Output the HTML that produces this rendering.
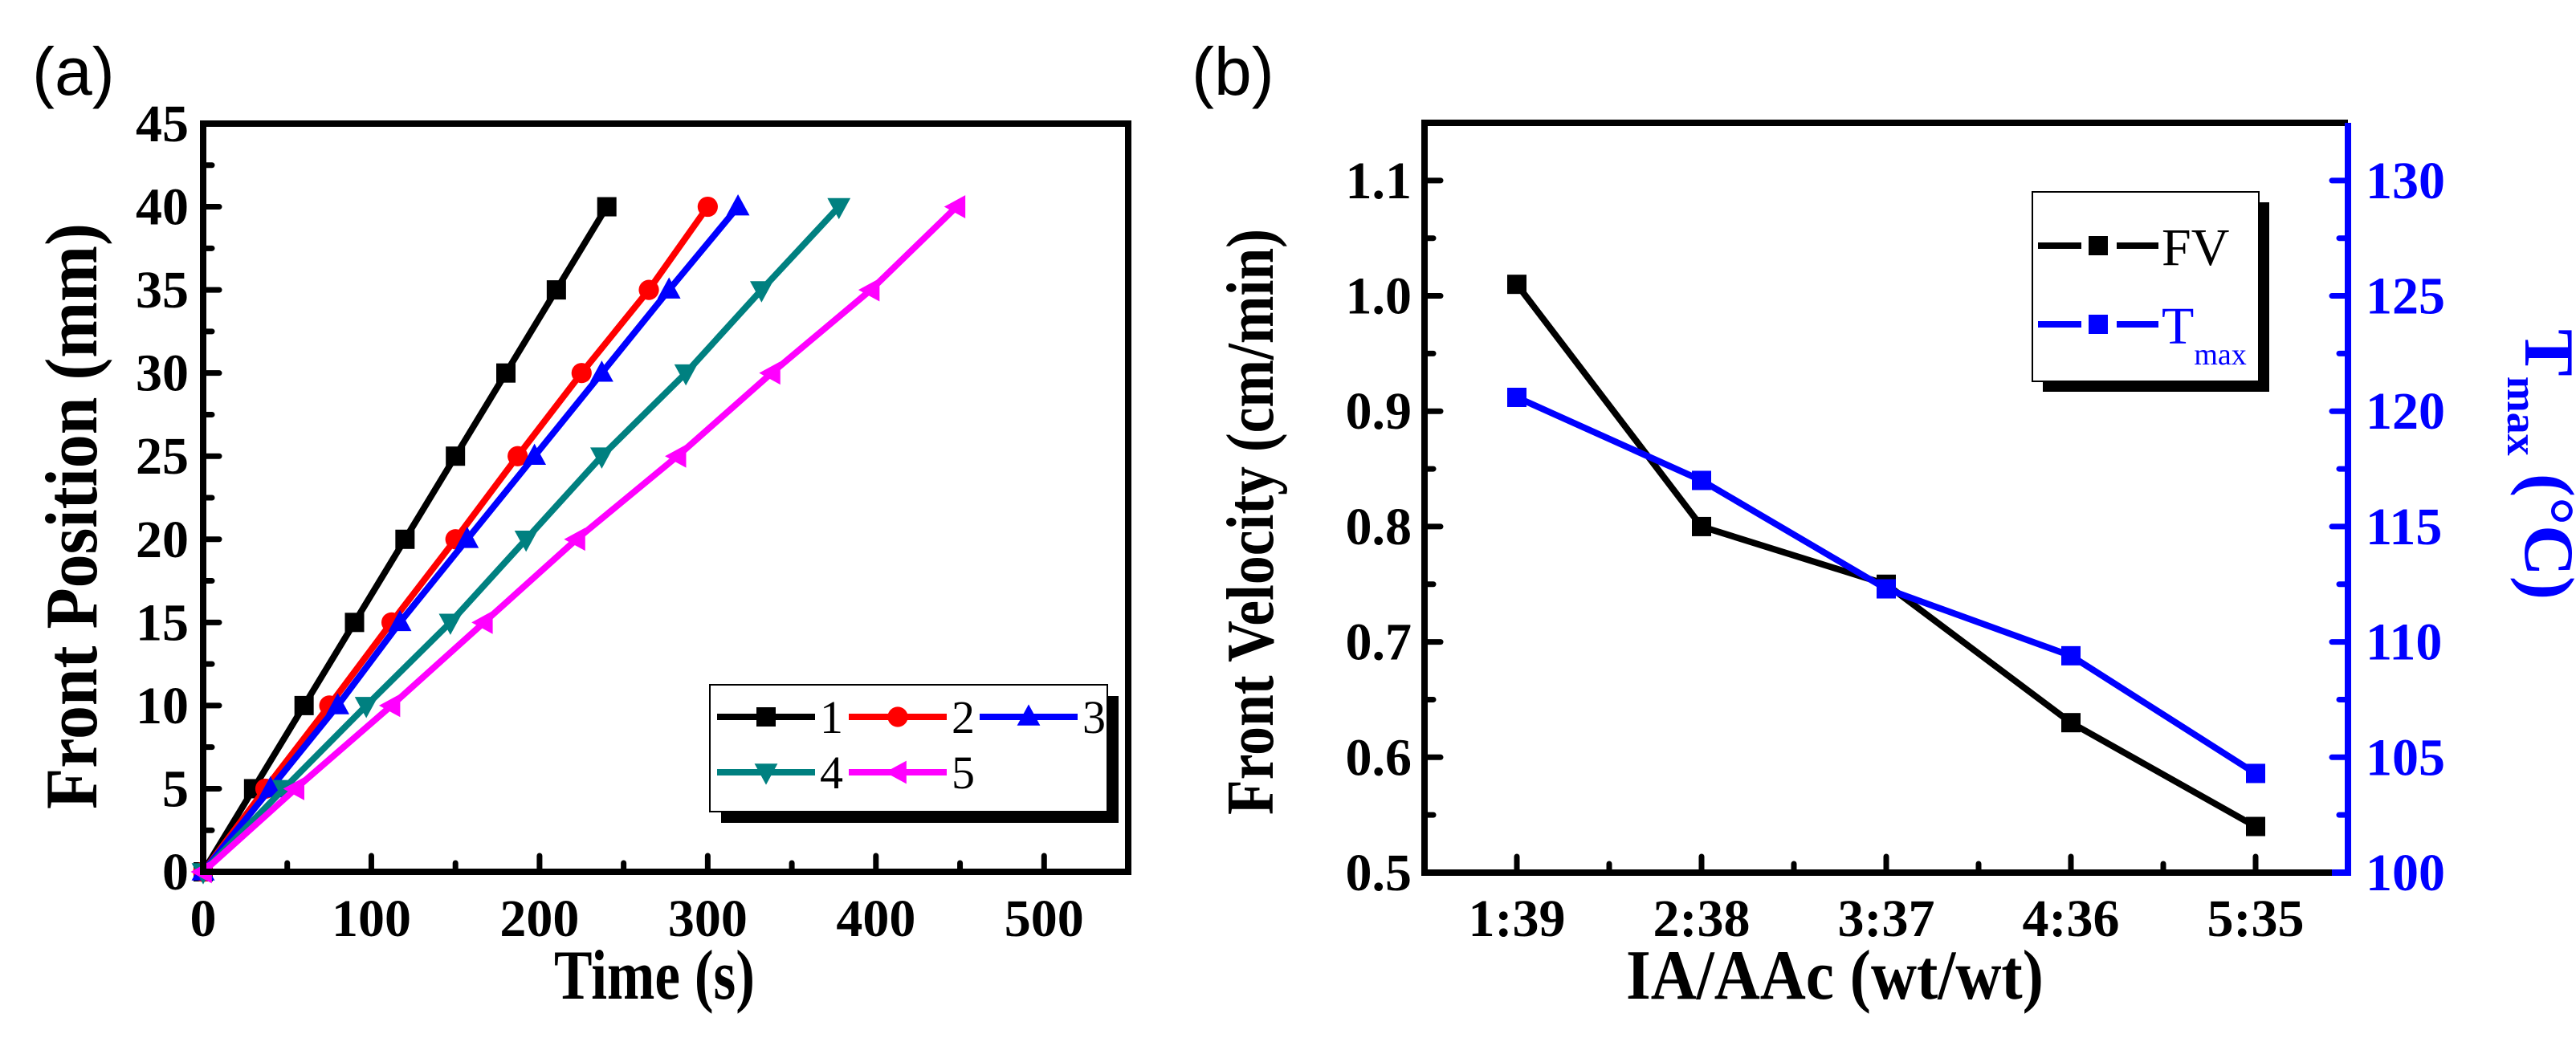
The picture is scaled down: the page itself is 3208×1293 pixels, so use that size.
<!DOCTYPE html>
<html><head><meta charset="utf-8"><style>
html,body{margin:0;padding:0;background:#fff;}
svg text{font-family:"Liberation Serif",serif;font-weight:bold;}
</style></head><body>
<svg id="fig" xmlns="http://www.w3.org/2000/svg" width="3208" height="1288" viewBox="0 0 3208 1288">
<rect width="3208" height="1288" fill="#fff"/>
<g id="pa"></g>
<g id="pb"></g>
</svg>
<script>
// Panel (a) data
const aPos = [0,5,10,15,20,25,30,35,40];
const aT1 = [0,30,60,90,120,150,180,210,240];
const aT2 = [0,37,75,112,150,187,225,265,300];
const aT3 = [0,40,80,117,157,197,237,277,318];
const aT4 = [0,48,97,147,192,237,287,332,378];
const aT5 = [0,55,112,167,222,282,338,397,448];
const aSeriesNames = ['1','2','3','4','5'];
const aXTicks = [0,100,200,300,400,500];
const aYTicks = [0,5,10,15,20,25,30,35,40,45];
// Panel (b) data
const bCats = ['1:39','2:38','3:37','4:36','5:35'];
const bFV = [1.01,0.80,0.75,0.63,0.54];
const bTmax = [120.6,117.0,112.3,109.4,104.3];
const bYTicks = [0.5,0.6,0.7,0.8,0.9,1.0,1.1];
const bY2Ticks = [100,105,110,115,120,125,130];

const NS='http://www.w3.org/2000/svg';
function mk(parent,tag,attrs,text){const e=document.createElementNS(NS,tag);for(const k in attrs)e.setAttribute(k,attrs[k]);if(text!==undefined)e.textContent=text;parent.appendChild(e);return e;}

// ---------- Panel A ----------
const pa=document.getElementById('pa');
const AX0=253,AX1=1405,AY0=1086,AY1=154;
const ax=t=>AX0+(t/550)*(AX1-AX0);
const ay=v=>AY0-(v/45)*(AY0-AY1);

let t=mk(pa,'text',{x:40,y:118,'font-size':84,style:'font-family:"Liberation Sans",sans-serif;font-weight:normal'},'(a)');



for(let v=0;v<=45;v+=2.5){const maj=v%5===0;const l=mk(pa,'line',{x1:AX0,x2:AX0+(maj?20:11),y1:ay(v),y2:ay(v),stroke:'#000','stroke-width':7,'stroke-linecap':'round'});

}
for(let v=50;v<=550;v+=50){const maj=v%100===0;const l=mk(pa,'line',{x1:ax(v),x2:ax(v),y1:AY0,y2:AY0-(maj?20:11),stroke:'#000','stroke-width':7,'stroke-linecap':'round'});

}
aYTicks.forEach(v=>{const e=mk(pa,'text',{x:AX0-18,y:ay(v)+22,'font-size':66,'text-anchor':'end'},String(v));

});
aXTicks.forEach(v=>{const e=mk(pa,'text',{x:ax(v),y:1166,'font-size':66,'text-anchor':'middle'},String(v));

});
t=mk(pa,'text',{x:0,y:0,'font-size':92,'text-anchor':'middle',textLength:730,lengthAdjust:'spacingAndGlyphs',transform:'translate(120,643) rotate(-90)'},'Front Position (mm)');


t=mk(pa,'text',{x:815,y:1244,'font-size':88,'text-anchor':'middle',textLength:250,lengthAdjust:'spacingAndGlyphs'},'Time (s)');



function marker(g,type,x,y,c,s){
  let e;
  if(type==='sq') e=mk(g,'rect',{x:x-s,y:y-s,width:2*s,height:2*s,fill:c});
  else if(type==='ci') e=mk(g,'circle',{cx:x,cy:y,r:s*1.05,fill:c});
  else if(type==='up') e=mk(g,'polygon',{points:`${x},${y-s*1.3} ${x-s*1.2},${y+s*0.9} ${x+s*1.2},${y+s*0.9}`,fill:c});
  else if(type==='dn') e=mk(g,'polygon',{points:`${x},${y+s*1.3} ${x-s*1.2},${y-s*0.9} ${x+s*1.2},${y-s*0.9}`,fill:c});
  else if(type==='lt') e=mk(g,'polygon',{points:`${x-s*1.3},${y} ${x+s*0.9},${y-s*1.2} ${x+s*0.9},${y+s*1.2}`,fill:c});
  return e;
}
const aSeries=[aT1,aT2,aT3,aT4,aT5];
const aColors=['#000','#ff0000','#0000ff','#008080','#ff00ff'];
const aMarks=['sq','ci','up','dn','lt'];
aSeries.forEach((ts,i)=>{
  const g=mk(pa,'g',{});
  
  
  const pts=ts.map((tt,j)=>ax(tt)+','+ay(aPos[j])).join(' ');
  mk(g,'polyline',{points:pts,fill:'none',stroke:aColors[i],'stroke-width':8,'stroke-linejoin':'round'});
  ts.forEach((tt,j)=>{const m=marker(g,aMarks[i],ax(tt),ay(aPos[j]),aColors[i],12);
  
  });
});
t=mk(pa,'rect',{x:AX0,y:AY1,width:AX1-AX0,height:AY0-AY1,fill:'none',stroke:'#000','stroke-width':8});


const lg=mk(pa,'g',{});


mk(lg,'rect',{x:898,y:867,width:495,height:158,fill:'#000'});
mk(lg,'rect',{x:884,y:853,width:495,height:158,fill:'#fff',stroke:'#000','stroke-width':2});
const legPos=[[893,893],[1057,893],[1220,893],[893,962],[1057,962]];
aSeriesNames.forEach((n,i)=>{
  const [lx,ly]=legPos[i];
  const e=mk(lg,'g',{});
  
  
  mk(e,'line',{x1:lx,x2:lx+122,y1:ly,y2:ly,stroke:aColors[i],'stroke-width':8});
  marker(e,aMarks[i],lx+61,ly,aColors[i],12);
  mk(e,'text',{x:lx+128,y:ly+20,'font-size':58,style:'font-weight:normal'},n);
});

// ---------- Panel B ----------
const pb=document.getElementById('pb');
const BX0=1774,BX1=2924,BY0=1087,BY1=153;
const bx=i=>BX0+(i+0.5)/5*(BX1-BX0);
const by=v=>BY0-(v-0.5)/0.65*(BY0-BY1);
const by2=v=>BY0-(v-100)/32.5*(BY0-BY1);
t=mk(pb,'text',{x:1484,y:118,'font-size':84,style:'font-family:"Liberation Sans",sans-serif;font-weight:normal'},'(b)');


for(let k=0;k<=13;k++){const v=0.5+k*0.05;const maj=k%2===0;const l=mk(pb,'line',{x1:BX0,x2:BX0+(maj?20:11),y1:by(v),y2:by(v),stroke:'#000','stroke-width':7,'stroke-linecap':'round'});

}
for(let k=0;k<=12;k++){const v=100+k*2.5;const maj=k%2===0;const l=mk(pb,'line',{x1:BX1,x2:BX1-(maj?20:11),y1:by2(v),y2:by2(v),stroke:'#0000ff','stroke-width':7,'stroke-linecap':'round'});

}
for(let k=0;k<9;k++){const x=BX0+(k+1)*(BX1-BX0)/10;const maj=k%2===0;const l=mk(pb,'line',{x1:x,x2:x,y1:BY0,y2:BY0-(maj?20:11),stroke:'#000','stroke-width':7,'stroke-linecap':'round'});

}
bYTicks.forEach(v=>{const e=mk(pb,'text',{x:BX0-16,y:by(v)+22,'font-size':66,'text-anchor':'end'},v.toFixed(1));

});
bY2Ticks.forEach(v=>{const e=mk(pb,'text',{x:BX1+22,y:by2(v)+22,'font-size':66,fill:'#0000ff'},String(v));

});
bCats.forEach((c,i)=>{const e=mk(pb,'text',{x:bx(i),y:1166,'font-size':66,'text-anchor':'middle'},c);

});
t=mk(pb,'text',{x:0,y:0,'font-size':84,'text-anchor':'middle',textLength:730,lengthAdjust:'spacingAndGlyphs',transform:'translate(1585,650) rotate(-90)'},'Front Velocity (cm/min)');


t=mk(pb,'text',{x:2285,y:1244,'font-size':88,'text-anchor':'middle',textLength:520,lengthAdjust:'spacingAndGlyphs'},'IA/AAc (wt/wt)');


t=mk(pb,'text',{x:0,y:0,'font-size':88,fill:'#0000ff',transform:'translate(3145,410) rotate(90)'});


mk(t,'tspan',{},'T');
mk(t,'tspan',{'font-size':54,dy:22},'max');
mk(t,'tspan',{dy:-22},' (°C)');

let g=mk(pb,'g',{});


mk(g,'polyline',{points:bFV.map((v,i)=>bx(i)+','+by(v)).join(' '),fill:'none',stroke:'#000','stroke-width':8});
bFV.forEach((v,i)=>{const m=marker(g,'sq',bx(i),by(v),'#000',12);

});
g=mk(pb,'g',{});


mk(g,'polyline',{points:bTmax.map((v,i)=>bx(i)+','+by2(v)).join(' '),fill:'none',stroke:'#0000ff','stroke-width':8});
bTmax.forEach((v,i)=>{const m=marker(g,'sq',bx(i),by2(v),'#0000ff',12);

});
t=mk(pb,'path',{d:`M${BX1},${BY1} L${BX0},${BY1} L${BX0},${BY0} L${BX1-20},${BY0}`,fill:'none',stroke:'#000','stroke-width':8});


t=mk(pb,'path',{d:`M${BX1-20},${BY0} L${BX1},${BY0} L${BX1},${BY1}`,fill:'none',stroke:'#0000ff','stroke-width':8});


const lb=mk(pb,'g',{});


mk(lb,'rect',{x:2544,y:252,width:282,height:236,fill:'#000'});
mk(lb,'rect',{x:2531,y:239,width:282,height:236,fill:'#fff',stroke:'#000','stroke-width':2});
let e=mk(lb,'g',{});


mk(e,'line',{x1:2538,x2:2688,y1:306,y2:306,stroke:'#000','stroke-width':8,'stroke-dasharray':'54 12 20 12 60'});
marker(e,'sq',2613,306,'#000',12);
mk(e,'text',{x:2692,y:330,'font-size':66,style:'font-weight:normal'},'FV');
e=mk(lb,'g',{});


mk(e,'line',{x1:2538,x2:2688,y1:404,y2:404,stroke:'#0000ff','stroke-width':8,'stroke-dasharray':'54 12 20 12 60'});
marker(e,'sq',2613,404,'#0000ff',12);
const tt=mk(e,'text',{x:2692,y:428,'font-size':66,fill:'#0000ff',style:'font-weight:normal'});
mk(tt,'tspan',{},'T');
mk(tt,'tspan',{'font-size':38,dy:26},'max');
</script>
</body></html>
